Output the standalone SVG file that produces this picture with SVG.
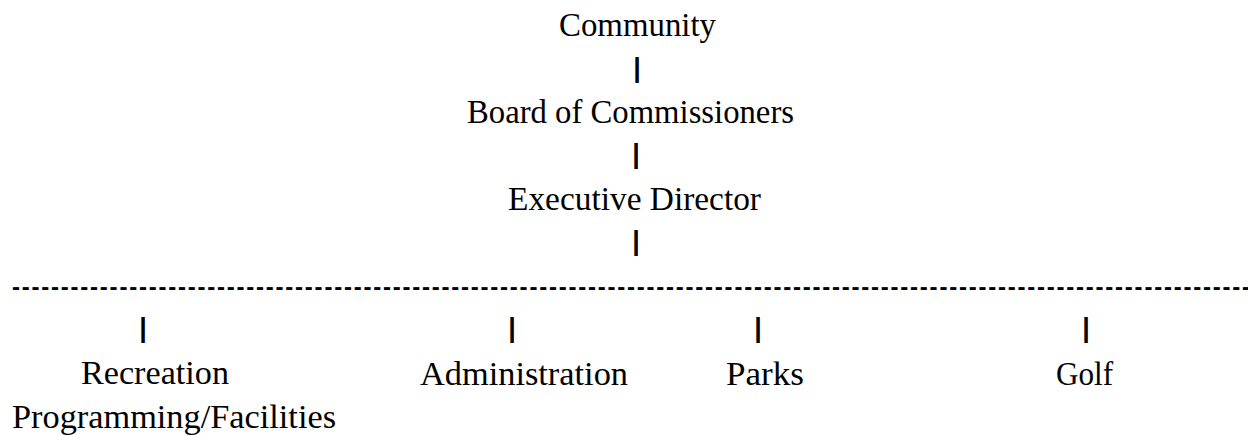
<svg xmlns="http://www.w3.org/2000/svg" width="1248" height="436" viewBox="0 0 1248 436">
<style>
.lbl{font-family:"Liberation Serif","Times New Roman",serif;font-size:33px;fill:#000}
.bar{font-family:"Liberation Sans",Arial,sans-serif;font-size:27px;font-weight:bold;fill:#000;text-anchor:middle}
.dash{font-family:"Liberation Sans",Arial,sans-serif;font-size:24px;font-weight:bold;fill:#000}
</style>
<rect width="1248" height="436" fill="#fff"/>
<g id="connectors">
<text class="bar" x="637" y="76.5">|</text>
<text class="bar" x="636" y="162.5">|</text>
<text class="bar" x="636" y="249.5">|</text>
<text class="dash" x="12" y="295" textLength="1238" lengthAdjust="spacing">-------------------------------------------------------------------------------------------------------------------------------</text>
<text class="bar" x="143" y="336.5">|</text>
<text class="bar" x="512" y="336.5">|</text>
<text class="bar" x="758" y="336.5">|</text>
<text class="bar" x="1086" y="336.5">|</text>
</g>
<g id="community"><text class="lbl" x="559" y="36" textLength="157" lengthAdjust="spacingAndGlyphs">Community</text></g>
<g id="board"><text class="lbl" x="467" y="123" textLength="327" lengthAdjust="spacingAndGlyphs">Board of Commissioners</text></g>
<g id="executive"><text class="lbl" x="508" y="210" textLength="253" lengthAdjust="spacingAndGlyphs">Executive Director</text></g>
<g id="recreation"><text class="lbl" x="81" y="384" textLength="148" lengthAdjust="spacingAndGlyphs">Recreation</text><text class="lbl" x="12" y="427.5" textLength="324" lengthAdjust="spacingAndGlyphs">Programming/Facilities</text></g>
<g id="administration"><text class="lbl" x="420" y="385" textLength="208" lengthAdjust="spacingAndGlyphs">Administration</text></g>
<g id="parks"><text class="lbl" x="726" y="385" textLength="78" lengthAdjust="spacingAndGlyphs">Parks</text></g>
<g id="golf"><text class="lbl" x="1056" y="385" textLength="57" lengthAdjust="spacingAndGlyphs">Golf</text></g>
</svg>
